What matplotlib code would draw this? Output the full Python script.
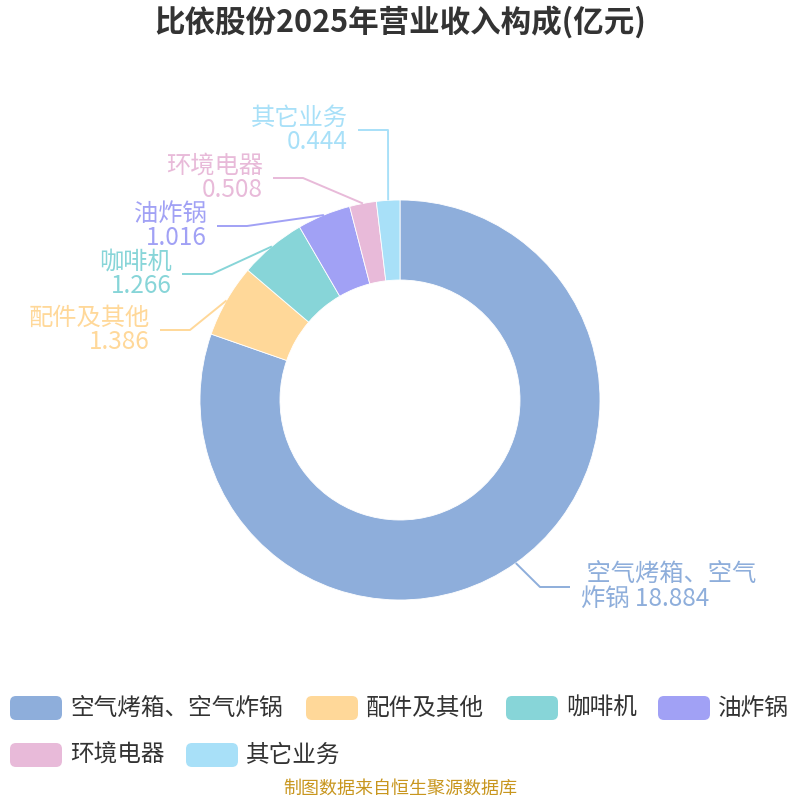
import matplotlib.pyplot as plt
from matplotlib.patches import FancyBboxPatch
import numpy as np

plt.rcParams['font.family'] = ['Noto Sans CJK SC', 'DejaVu Sans']

title = '比依股份2025年营业收入构成(亿元)'
categories = ['空气烤箱、空气炸锅', '配件及其他', '咖啡机', '油炸锅', '环境电器', '其它业务']
values = [18.884, 1.386, 1.266, 1.016, 0.508, 0.444]
colors = ['#8eaedb', '#ffd899', '#87d5d8', '#a1a1f5', '#e8bad9', '#a8e0f8']
source = '制图数据来自恒生聚源数据库'

# 引出线拐点(像素坐标), 标签沿水平方向往外放
elbows = [(540, 587), (190, 330), (212, 274), (247, 226), (303, 178), (388, 130)]

cx, cy, r_out, ring = 400, 400, 200, 80

fig = plt.figure(figsize=(8, 8), dpi=100)
ax = fig.add_axes([0, 0, 1, 1])
wedges, _ = ax.pie(values, colors=colors, radius=r_out, center=(cx, cy),
                   startangle=-90, counterclock=True,
                   wedgeprops=dict(width=ring, edgecolor='white', linewidth=0.6))
ax.set_xlim(0, 800)
ax.set_ylim(800, 0)
ax.set_aspect('equal')
ax.axis('off')

# --- 标签和引出线 ---
for w, name, v, c, (ex, ey) in zip(wedges, categories, values, colors, elbows):
    mid = np.deg2rad((w.theta1 + w.theta2) / 2)
    px = cx + r_out * np.cos(mid)
    py = cy + r_out * np.sin(mid)
    side = 1 if ex > cx else -1
    hx = ex + side * 30
    ax.plot([px, ex, hx], [py, ey, ey], color=c, lw=1.4, solid_capstyle='butt')
    if side > 0:
        txt = f' {name[:7]}\n{name[7:]} {v}'
        ax.text(hx + 11, ey, txt, ha='left', va='center', fontsize=17.5,
                color=c, linespacing=0.93, multialignment='left')
    else:
        ax.text(hx - 10, ey, f'{name}\n{v}', ha='right', va='center', fontsize=17.5,
                color=c, linespacing=0.93, multialignment='right')

# --- 图例 ---
x, y = 10, 708
for name, c in zip(categories, colors):
    item_w = 60 + len(name) * 24
    if x + item_w > 800:
        x, y = 10, y + 47
    ax.add_patch(FancyBboxPatch((x, y - 12), 52, 24, boxstyle='round,pad=0,rounding_size=6',
                                fc=c, ec='none'))
    ax.text(x + 60, y, name, ha='left', va='center', fontsize=17, color='#333333')
    x += item_w + 20

ax.text(400, 22, title, ha='center', va='center', fontsize=22, fontweight='bold', color='#333333')
ax.text(400, 789, source, ha='center', va='center', fontsize=13, color='#c8961e')

plt.savefig('out.png', dpi=100)
plt.close()
